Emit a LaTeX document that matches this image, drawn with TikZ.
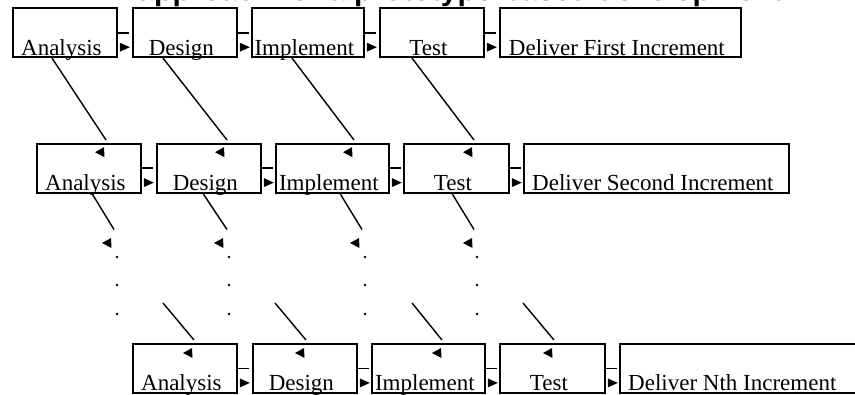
\documentclass[tikz,border=0pt]{standalone}
\usepackage{fontspec}
\setmainfont{Liberation Serif}
\newfontfamily\titlefont{Liberation Sans}
\usetikzlibrary{calc}

\tikzset{
  box/.style={draw, line width=1.8pt, inner sep=0pt, minimum height=49pt, anchor=north west},
  lbl/.style={font=\fontsize{23}{27}\selectfont, inner sep=0pt, anchor=base},
  link/.style={line width=1.4pt},
  stub/.style={line width=1.8pt},
  pics/rtip/.style={code={\fill (0,-4.5) -- (10,0) -- (0,4.5) -- cycle;}},
  pics/ltip/.style={code={\fill (0,0) -- (9,-5) -- (9.5,5) -- cycle;}},
}

\begin{document}
\begin{tikzpicture}[x=1pt, y=-1pt]
\fill[white] (0,0) rectangle (855,394);
\useasboundingbox (0,0) rectangle (855,394);

% heading, mostly above the page
\node[font=\titlefont\bfseries\fontsize{30}{34}\selectfont, anchor=base west, inner sep=0pt]
  (title) at (89,0.5) {An approach for a prototype-based development};

% ---------- first increment ----------
\node[box, minimum width=104] (a1) at (12,7.3) {};
\node[box, minimum width=104] (d1) at (132,7.3) {};
\node[box, minimum width=112] (i1) at (251,7.3) {};
\node[box, minimum width=104] (t1) at (379,7.3) {};
\node[box, minimum width=241] (v1) at (499,7.3) {};

% ---------- second increment ----------
\node[box, minimum width=104] (a2) at (36,142.7) {};
\node[box, minimum width=104] (d2) at (156,142.7) {};
\node[box, minimum width=113] (i2) at (275,142.7) {};
\node[box, minimum width=105] (t2) at (403,142.7) {};
\node[box, minimum width=265] (v2) at (523,142.7) {};

% ---------- n-th increment ----------
\node[box, minimum width=104] (a3) at (132,343) {};
\node[box, minimum width=104] (d3) at (252,343) {};
\node[box, minimum width=113] (i3) at (371,343) {};
\node[box, minimum width=105] (t3) at (499,343) {};
\node[box, minimum width=250] (v3) at (619,343) {};

% labels sit on the bottom edge of each box
\foreach \b/\t in {a1/Analysis, d1/Design, i1/Implement, t1/Test, v1/Deliver First Increment,
                   a2/Analysis, d2/Design, i2/Implement, t2/Test, v2/Deliver Second Increment,
                   a3/Analysis, d3/Design, i3/Implement, t3/Test}
  \node[lbl] at ($(\b.south)+(-3.5,-3)$) {\t};
\node[lbl, anchor=base west] at ($(v3.south west)+(9,-3)$) {Deliver Nth Increment};

% step-to-step connectors within each increment
\foreach \p/\q in {a1/d1, d1/i1, i1/t1, t1/v1,
                   a2/d2, d2/i2, i2/t2, t2/v2,
                   a3/d3, d3/i3, i3/t3, t3/v3} {
  \draw[stub] (\p.east) -- ++(10.7,0);
  \pic at ($(\p.east)+(2,14.5)$) {rtip};
}

% first increment feeding the second
\draw[link] ($(a1.south west)+(40,0)$) -- ($(a2.north west)+(70,-2.7)$);
\draw[link] ($(d1.south west)+(31,0)$) -- ($(d2.north west)+(71,-2.7)$);
\draw[link] ($(i1.south west)+(41,0)$) -- ($(i2.north west)+(79,-2.7)$);
\draw[link] ($(t1.south west)+(33,0)$) -- ($(t2.north west)+(71,-2.7)$);
\pic at ($(a2.north west)+(59,9.5)$) {ltip};
\pic at ($(d2.north west)+(59,9.5)$) {ltip};
\pic at ($(i2.north west)+(68,9.5)$) {ltip};
\pic at ($(t2.north west)+(60,9.5)$) {ltip};

% second increment leading on
\draw[link] ($(a2.south west)+(56,0)$) -- ($(a2.south west)+(78,36)$);
\draw[link] ($(d2.south west)+(47,0)$) -- ($(d2.south west)+(71,36)$);
\draw[link] ($(i2.south west)+(65,0)$) -- ($(i2.south west)+(87,36)$);
\draw[link] ($(t2.south west)+(49,0)$) -- ($(t2.south west)+(71,36)$);
\pic at ($(a2.south west)+(66,49.5)$) {ltip};
\pic at ($(d2.south west)+(58,49.5)$) {ltip};
\pic at ($(i2.south west)+(75,49.5)$) {ltip};
\pic at ($(t2.south west)+(60,49.5)$) {ltip};

% ellipsis dots
\foreach \x in {117,229,365,477}
  \foreach \y in {257,285,314}
    \fill (\x,\y) circle (1.3);

% links into the n-th increment
\draw[link] ($(a3.north west)+(31,-40)$) -- ($(a3.north west)+(62,-3)$);
\draw[link] ($(d3.north west)+(23,-40)$) -- ($(d3.north west)+(54,-3)$);
\draw[link] ($(i3.north west)+(41,-40)$) -- ($(i3.north west)+(71,-3)$);
\draw[link] ($(t3.north west)+(24,-40)$) -- ($(t3.north west)+(55,-3)$);
\pic at ($(a3.north west)+(51,10)$) {ltip};
\pic at ($(d3.north west)+(43,10)$) {ltip};
\pic at ($(i3.north west)+(61,10)$) {ltip};
\pic at ($(t3.north west)+(44,10)$) {ltip};
\end{tikzpicture}
\end{document}
